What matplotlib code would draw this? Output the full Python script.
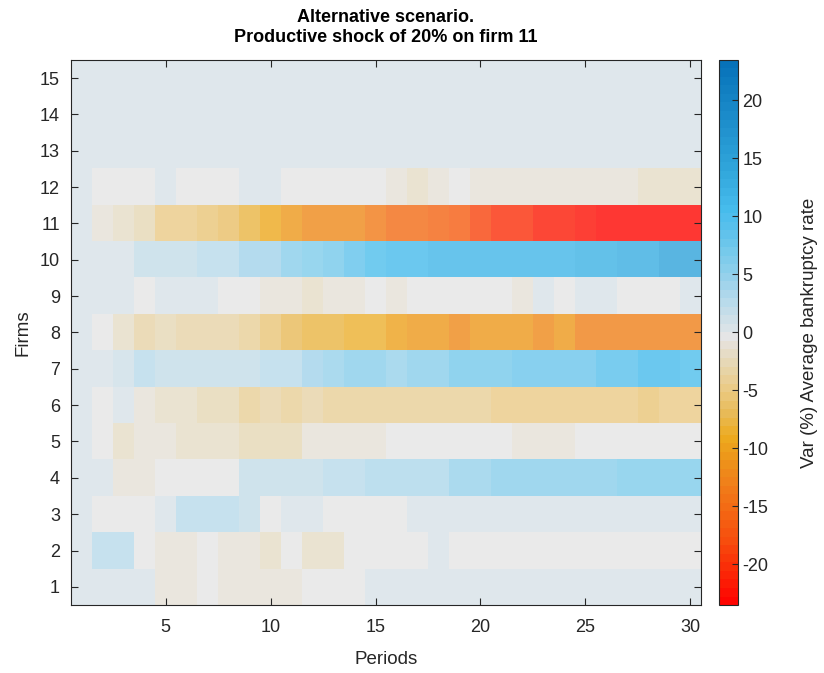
import numpy as np
import matplotlib
matplotlib.use("Agg")
import matplotlib.pyplot as plt
from matplotlib.colors import ListedColormap, Normalize
from matplotlib.cm import ScalarMappable

plt.rcParams['font.family'] = ['Liberation Sans', 'DejaVu Sans']
plt.rcParams['axes.unicode_minus'] = False

# Var (%) average bankruptcy rate, one list per firm, periods 1..30
periods = list(range(1, 31))
firms = list(range(1, 16))

firm_1 = [0, 0, 0, 0, -1.3, -1.3, -0.5, -1.3, -1.3, -1.3, -1.3, -0.5, -0.5, -0.5, 0,
          0, 0, 0, 0, 0, 0, 0, 0, 0, 0, 0, 0, 0, 0, 0]
firm_2 = [0, 2.4, 2.4, -0.5, -1.3, -1.3, -0.5, -1.3, -1.3, -2.1, -0.5, -1.7, -1.7, -0.5, -0.5,
          -0.5, -0.5, 0, -0.5, -0.5, -0.5, -0.5, -0.5, -0.5, -0.5, -0.5, -0.5, -0.5, -0.5, -0.5]
firm_3 = [0, -0.5, -0.5, -0.5, 0.3, 2.4, 2.4, 2.4, 1.5, -0.5, 0, 0, -0.5, -0.5, -0.5,
          -0.5, 0, 0, 0, 0, 0, 0, 0, 0, 0, 0, 0, 0, 0, 0]
firm_4 = [0, 0, -1.3, -1.3, -0.5, -0.5, -0.5, -0.5, 1.5, 1.5, 1.5, 1.5, 2.5, 2.5, 3.0,
          3.5, 3.5, 3.5, 4.5, 4.5, 5.3, 5.3, 5.3, 5.3, 5.3, 5.3, 6.0, 6.0, 6.0, 6.0]
firm_5 = [0, -0.5, -2.1, -1.3, -1.3, -1.7, -2.1, -2.1, -2.4, -2.4, -2.4, -1.3, -1.0, -1.0, -1.0,
          -0.5, -0.5, -0.5, -0.5, -0.5, -0.5, -1.3, -1.3, -1.3, -0.5, -0.5, -0.5, -0.5, -0.5, -0.5]
firm_6 = [0, -0.5, 0.3, -1.3, -2.1, -2.1, -2.7, -2.7, -3.8, -3.3, -3.8, -3.0, -3.8, -3.8, -3.8,
          -3.8, -4.2, -4.2, -4.2, -4.2, -5.0, -5.0, -5.0, -5.0, -5.0, -5.0, -5.0, -5.6, -5.0, -5.0]
firm_7 = [0, 0.4, 1.3, 2.3, 1.5, 1.5, 1.5, 1.5, 1.5, 2.4, 2.4, 4.0, 4.7, 5.5, 5.6,
          5.0, 5.5, 5.5, 7.0, 7.0, 7.0, 8.0, 8.0, 8.0, 8.0, 9.3, 9.3, 10.5, 10.5, 10.0]
firm_8 = [0, -0.5, -2.1, -3.3, -2.7, -3.0, -3.0, -3.0, -4.0, -5.8, -6.8, -7.8, -7.8, -8.3, -8.8,
          -10.0, -11.0, -11.0, -12.0, -11.0, -11.0, -11.0, -12.0, -11.0, -13.0, -13.0, -13.0, -13.0, -13.0, -13.0]
firm_9 = [0, 0, 0, -0.5, 0, 0, 0, -0.5, -0.5, -1.3, -1.3, -2.1, -1.3, -1.0, -0.5,
          -1.3, -0.5, -0.5, -0.5, -0.5, -0.5, -1.3, 0, -0.5, 0, 0, -0.5, -0.5, -0.5, 0]
firm_10 = [0, 0, 0, 1.5, 1.5, 2.0, 2.5, 2.5, 4.0, 3.8, 5.5, 6.2, 7.0, 8.5, 9.8,
           10.5, 10.5, 11.5, 11.5, 11.5, 11.5, 11.5, 11.5, 11.5, 12.2, 12.2, 13.0, 13.0, 14.0, 14.3]
firm_11 = [0, -1.3, -2.1, -2.7, -4.8, -4.8, -5.3, -6.5, -8.0, -9.0, -11.0, -12.3, -12.3, -12.3, -13.5,
           -14.8, -15.0, -16.0, -16.5, -18.5, -20.0, -20.5, -21.3, -21.8, -22.5, -23.2, -23.3, -23.4, -23.4, -23.5]
firm_12 = [0, -0.5, -0.5, -0.5, 0, -0.5, -0.5, -0.5, 0, 0, -0.5, -0.5, -0.5, -0.5, -0.5,
           -1.3, -2.1, -1.3, -0.5, -1.3, -1.3, -1.3, -1.3, -1.3, -1.3, -1.3, -1.3, -2.1, -2.1, -2.1]
firm_13 = [0] * 30
firm_14 = [0] * 30
firm_15 = [0] * 30

data = np.array([firm_1, firm_2, firm_3, firm_4, firm_5, firm_6, firm_7, firm_8,
                 firm_9, firm_10, firm_11, firm_12, firm_13, firm_14, firm_15])

# colour limits symmetric around zero
vmax = np.abs(data).max()

# diverging colormap, 64 discrete steps (red - orange - yellow - grey - light blue - blue)
anchors = [-1.0, -0.766, -0.553, -0.468, -0.383, -0.298, -0.213, -0.106, -0.055, -0.016,
           0.016, 0.064, 0.106, 0.170, 0.234, 0.298, 0.362, 0.447, 0.596, 1.0]
anchor_cols = np.array([
    [1.00, 0.00, 0.00], [0.97, 0.30, 0.05], [0.94, 0.50, 0.10], [0.93, 0.58, 0.10],
    [0.93, 0.67, 0.12], [0.91, 0.73, 0.34], [0.92, 0.79, 0.51], [0.90, 0.85, 0.72],
    [0.90, 0.875, 0.825], [0.90, 0.90, 0.90],
    [0.85, 0.89, 0.91], [0.79, 0.87, 0.91], [0.73, 0.86, 0.92], [0.64, 0.83, 0.92],
    [0.54, 0.81, 0.92], [0.46, 0.79, 0.92], [0.375, 0.76, 0.925], [0.28, 0.74, 0.93],
    [0.19, 0.65, 0.86], [0.02, 0.44, 0.72]])
centers = -1 + (np.arange(64) + 0.5) * 2 / 64
cols = np.column_stack([np.interp(centers, anchors, anchor_cols[:, k]) for k in range(3)])
cmap = ListedColormap(cols)
norm = Normalize(vmin=-vmax, vmax=vmax)

fig = plt.figure(figsize=(8.24, 6.73), dpi=100)
ax = fig.add_axes([0.0862, 0.101, 0.7645, 0.810])
cax = fig.add_axes([0.8726, 0.101, 0.0230, 0.810])

ax.imshow(data, cmap=cmap, norm=norm, origin='lower', aspect='auto',
          extent=(0.5, 30.5, 0.5, 15.5), interpolation='nearest', alpha=0.8)

dark = '#262626'
ax.set_xticks([5, 10, 15, 20, 25, 30])
ax.set_yticks(firms)
ax.tick_params(direction='in', length=5, width=0.8, labelsize=13, colors=dark,
               top=True, right=True)
ax.tick_params(axis='x', pad=10)
ax.tick_params(axis='y', pad=8)
for s in ax.spines.values():
    s.set_color(dark)
    s.set_linewidth(0.8)
ax.set_xlabel('Periods', fontsize=13.5, color=dark, labelpad=11)
ax.set_ylabel('Firms', fontsize=13.5, color=dark, labelpad=6)
ax.set_title('Alternative scenario.\nProductive shock of 20% on firm 11',
             fontsize=13, fontweight='bold', color='black', pad=13)

sm = ScalarMappable(norm=norm, cmap=cmap)
cb = fig.colorbar(sm, cax=cax)
cb.set_ticks([-20, -15, -10, -5, 0, 5, 10, 15, 20])
cb.ax.tick_params(direction='in', length=4, width=0.8, labelsize=13, colors=dark, pad=3)
cb.outline.set_edgecolor(dark)
cb.outline.set_linewidth(0.8)
cb.set_label('Var (%) Average bankruptcy rate', fontsize=13.5, color=dark, labelpad=24)

fig.savefig('out.png', dpi=100)
